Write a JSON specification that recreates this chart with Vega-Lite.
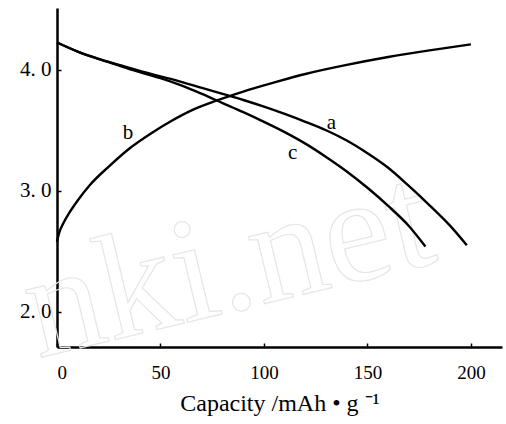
{
  "$schema": "https://vega.github.io/schema/vega-lite/v6.json",
  "width": 445,
  "height": 339,
  "autosize": {"type": "none"},
  "padding": {"left": 57, "top": 8, "right": 4, "bottom": 77},
  "background": "white",
  "config": {
    "view": {"stroke": null},
    "font": "Liberation Serif"
  },
  "datasets": {
    "curves": [
      {"curve": "a", "capacity": 0, "voltage": 4.225},
      {"curve": "a", "capacity": 10, "voltage": 4.15},
      {"curve": "a", "capacity": 20, "voltage": 4.09},
      {"curve": "a", "capacity": 30, "voltage": 4.04},
      {"curve": "a", "capacity": 40, "voltage": 3.99},
      {"curve": "a", "capacity": 50, "voltage": 3.945},
      {"curve": "a", "capacity": 60, "voltage": 3.9},
      {"curve": "a", "capacity": 70, "voltage": 3.85},
      {"curve": "a", "capacity": 80, "voltage": 3.8},
      {"curve": "a", "capacity": 90, "voltage": 3.75},
      {"curve": "a", "capacity": 100, "voltage": 3.695},
      {"curve": "a", "capacity": 110, "voltage": 3.635},
      {"curve": "a", "capacity": 120, "voltage": 3.57},
      {"curve": "a", "capacity": 130, "voltage": 3.5},
      {"curve": "a", "capacity": 140, "voltage": 3.415},
      {"curve": "a", "capacity": 150, "voltage": 3.31},
      {"curve": "a", "capacity": 160, "voltage": 3.19},
      {"curve": "a", "capacity": 170, "voltage": 3.04},
      {"curve": "a", "capacity": 180, "voltage": 2.88},
      {"curve": "a", "capacity": 190, "voltage": 2.71},
      {"curve": "a", "capacity": 198, "voltage": 2.55},
      {"curve": "c", "capacity": 0, "voltage": 4.225},
      {"curve": "c", "capacity": 10, "voltage": 4.15},
      {"curve": "c", "capacity": 20, "voltage": 4.09},
      {"curve": "c", "capacity": 30, "voltage": 4.035},
      {"curve": "c", "capacity": 40, "voltage": 3.98},
      {"curve": "c", "capacity": 50, "voltage": 3.93},
      {"curve": "c", "capacity": 60, "voltage": 3.87},
      {"curve": "c", "capacity": 70, "voltage": 3.8},
      {"curve": "c", "capacity": 80, "voltage": 3.725},
      {"curve": "c", "capacity": 90, "voltage": 3.65},
      {"curve": "c", "capacity": 100, "voltage": 3.57},
      {"curve": "c", "capacity": 110, "voltage": 3.485},
      {"curve": "c", "capacity": 120, "voltage": 3.39},
      {"curve": "c", "capacity": 130, "voltage": 3.28},
      {"curve": "c", "capacity": 140, "voltage": 3.16},
      {"curve": "c", "capacity": 150, "voltage": 3.025},
      {"curve": "c", "capacity": 160, "voltage": 2.875},
      {"curve": "c", "capacity": 170, "voltage": 2.71},
      {"curve": "c", "capacity": 178, "voltage": 2.54},
      {"curve": "b", "capacity": 0, "voltage": 2.58},
      {"curve": "b", "capacity": 1, "voltage": 2.65},
      {"curve": "b", "capacity": 3, "voltage": 2.73},
      {"curve": "b", "capacity": 6, "voltage": 2.82},
      {"curve": "b", "capacity": 10, "voltage": 2.92},
      {"curve": "b", "capacity": 16, "voltage": 3.05},
      {"curve": "b", "capacity": 25, "voltage": 3.2},
      {"curve": "b", "capacity": 35, "voltage": 3.35},
      {"curve": "b", "capacity": 45, "voltage": 3.47},
      {"curve": "b", "capacity": 55, "voltage": 3.575},
      {"curve": "b", "capacity": 65, "voltage": 3.665},
      {"curve": "b", "capacity": 77, "voltage": 3.745},
      {"curve": "b", "capacity": 90, "voltage": 3.82},
      {"curve": "b", "capacity": 105, "voltage": 3.895},
      {"curve": "b", "capacity": 120, "voltage": 3.965},
      {"curve": "b", "capacity": 140, "voltage": 4.04},
      {"curve": "b", "capacity": 160, "voltage": 4.105},
      {"curve": "b", "capacity": 180, "voltage": 4.16},
      {"curve": "b", "capacity": 200, "voltage": 4.21}
    ],
    "labels": [
      {"label": "a", "capacity": 132.6, "voltage": 3.56},
      {"label": "b", "capacity": 34.3, "voltage": 3.48},
      {"label": "c", "capacity": 113.8, "voltage": 3.31}
    ],
    "watermark": [
      {"text": "nki.net", "capacity": -9, "voltage": 1.62}
    ]
  },
  "layer": [
    {
      "data": {"name": "watermark"},
      "mark": {"type": "text", "fontSize": 150, "font": "Liberation Serif", "angle": -13.5, "align": "left", "baseline": "alphabetic", "fill": null, "fillOpacity": 0, "stroke": "#e6e6e6", "strokeWidth": 1.2},
      "encoding": {
        "x": {"field": "capacity", "type": "quantitative"},
        "y": {"field": "voltage", "type": "quantitative"},
        "text": {"field": "text"}
      }
    },
    {
      "data": {"name": "curves"},
      "mark": {"type": "line", "color": "black", "strokeWidth": 2.4, "interpolate": "monotone"},
      "encoding": {
        "x": {
          "field": "capacity", "type": "quantitative",
          "scale": {"domain": [0, 215], "nice": false},
          "axis": {
            "values": [0, 50, 100, 150, 200],
            "title": "Capacity /mAh • g ⁻¹",
            "titleFont": "Liberation Serif", "titleFontSize": 24, "titleFontWeight": "normal", "titleColor": "black",
            "titlePadding": 9,
            "labelFont": "Liberation Serif", "labelFontSize": 19, "labelColor": "black", "labelPadding": 20,
            "domainColor": "black", "domainWidth": 2.5,
            "tickColor": "black", "tickSize": -4, "tickWidth": 1.5,
            "grid": false
          }
        },
        "y": {
          "field": "voltage", "type": "quantitative",
          "scale": {"domain": [1.71, 4.51], "nice": false, "zero": false},
          "axis": {
            "values": [2, 3, 4],
            "labelExpr": "datum.value + '. 0'",
            "title": null,
            "labelFont": "Liberation Serif", "labelFontSize": 21, "labelColor": "black", "labelPadding": 10,
            "domainColor": "black", "domainWidth": 2.5,
            "tickColor": "black", "tickSize": -4, "tickWidth": 1.5,
            "grid": false
          }
        },
        "detail": {"field": "curve"}
      }
    },
    {
      "data": {"name": "labels"},
      "mark": {"type": "text", "fontSize": 21, "font": "Liberation Serif", "color": "black", "align": "center", "baseline": "middle"},
      "encoding": {
        "x": {"field": "capacity", "type": "quantitative"},
        "y": {"field": "voltage", "type": "quantitative"},
        "text": {"field": "label"}
      }
    }
  ]
}
